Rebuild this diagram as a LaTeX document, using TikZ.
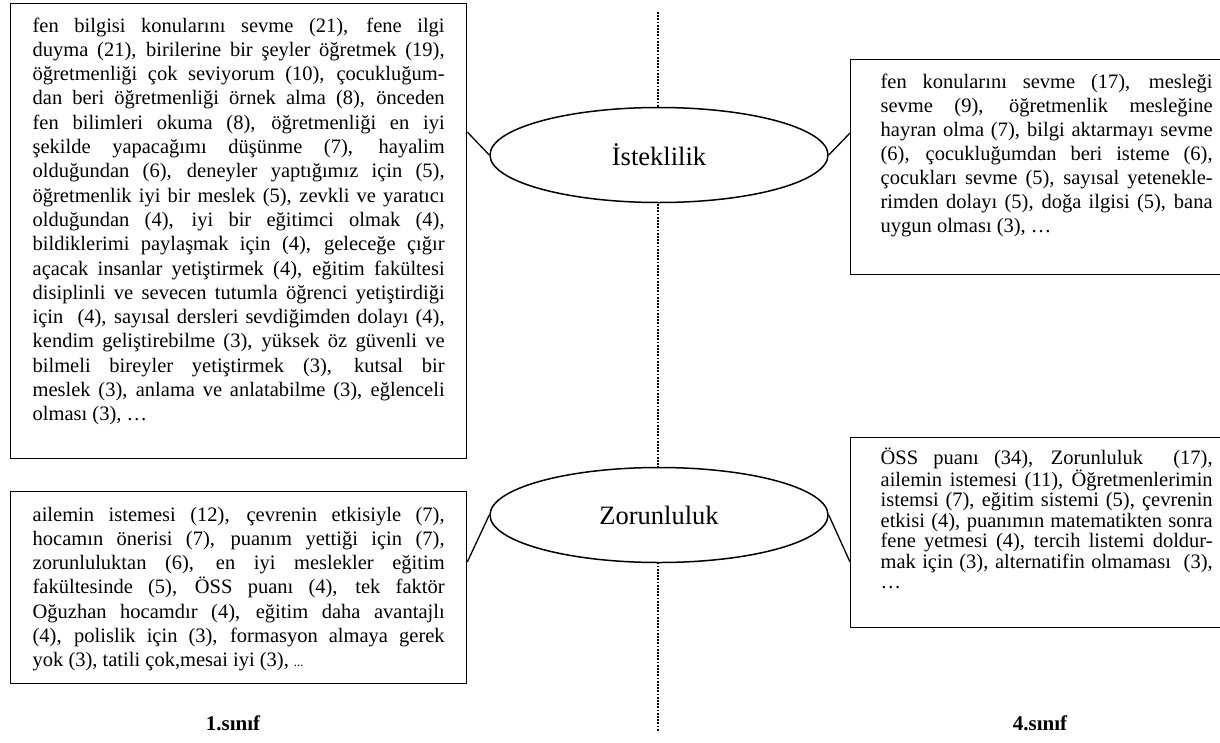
\documentclass[tikz,border=0pt]{standalone}
\usepackage{fontspec}
\setmainfont{Liberation Serif}
\usetikzlibrary{shapes.geometric}
\newcommand{\jline}[1]{\hbox to \linewidth{#1}}
\newcommand{\lline}[1]{\hbox{#1}}
\tikzset{
  txtbox/.style={draw, rectangle, line width=1.3pt, inner xsep=22pt, anchor=north west},
  ell/.style={ellipse, draw, fill=white, line width=1.5pt, minimum width=338pt,
    minimum height=95pt, inner sep=0pt, font=\fontsize{26.5}{30}\selectfont},
  conn/.style={line width=1.3pt},
  dotline/.style={line width=1.9pt, dash pattern=on 1.8pt off 1.4pt},
  lab/.style={font=\bfseries\fontsize{21}{24}\selectfont, inner sep=0pt}
}
\begin{document}
\begin{tikzpicture}[x=1pt, y=-1pt]
\useasboundingbox (0,0) rectangle (1220,742);
% dotted divider
\coordinate (dtop) at (658,12);
\coordinate (dbot) at (658,732);
\draw[dotline] (dtop) -- (dbot);

% left top box
\node[txtbox, inner ysep=14pt, font=\fontsize{20.5}{24.3}\selectfont] (lt) at (10,3) {\parbox[c][427pt][t]{412pt}{%
\jline{fen bilgisi konularını sevme (21), fene ilgi}
\jline{duyma (21), birilerine bir şeyler öğretmek (19),}
\jline{öğretmenliği çok seviyorum (10), çocukluğum-}
\jline{dan beri öğretmenliği örnek alma (8), önceden}
\jline{fen bilimleri okuma (8), öğretmenliği en iyi}
\jline{şekilde yapacağımı düşünme (7), hayalim}
\jline{olduğundan (6), deneyler yaptığımız için (5),}
\jline{öğretmenlik iyi bir meslek (5), zevkli ve yaratıcı}
\jline{olduğundan (4), iyi bir eğitimci olmak (4),}
\jline{bildiklerimi paylaşmak için (4), geleceğe çığır}
\jline{açacak insanlar yetiştirmek (4), eğitim fakültesi}
\jline{disiplinli ve sevecen tutumla öğrenci yetiştirdiği}
\jline{için\ \ (4), sayısal dersleri sevdiğimden dolayı (4),}
\jline{kendim geliştirebilme (3), yüksek öz güvenli ve}
\jline{bilmeli bireyler yetiştirmek (3), kutsal bir}
\jline{meslek (3), anlama ve anlatabilme (3), eğlenceli}
\lline{olması (3), …}}};

% right top box
\node[txtbox, inner xsep=30pt, inner ysep=14.5pt, font=\fontsize{20.5}{24}\selectfont] (rt) at (850,59) {\parbox[c][186pt][t]{332pt}{%
\jline{fen konularını sevme (17), mesleği}
\jline{sevme (9), öğretmenlik mesleğine}
\jline{hayran olma (7), bilgi aktarmayı sevme}
\jline{(6), çocukluğumdan beri isteme (6),}
\jline{çocukları sevme (5), sayısal yetenekle-}
\jline{rimden dolayı (5), doğa ilgisi (5), bana}
\lline{uygun olması (3), …}}};

% left bottom box
\node[txtbox, inner ysep=15.5pt, font=\fontsize{20.5}{24.2}\selectfont] (lb) at (10,491) {\parbox[c][161pt][t]{412pt}{%
\jline{ailemin istemesi (12), çevrenin etkisiyle (7),}
\jline{hocamın önerisi (7), puanım yettiği için (7),}
\jline{zorunluluktan (6), en iyi meslekler eğitim}
\jline{fakültesinde (5), ÖSS puanı (4), tek faktör}
\jline{Oğuzhan hocamdır (4), eğitim daha avantajlı}
\jline{(4), polislik için (3), formasyon almaya gerek}
\lline{yok (3), tatili çok,mesai iyi (3), {\fontsize{13}{15}\selectfont...}}}};

% right bottom box
\node[txtbox, inner xsep=30pt, inner ysep=10pt, font=\fontsize{20.5}{20.5}\selectfont] (rb) at (850,437) {\parbox[c][170pt][t]{332pt}{%
\jline{ÖSS puanı (34), Zorunluluk\ \ (17),}
\jline{ailemin istemesi (11), Öğretmenlerimin}
\jline{istemsi (7), eğitim sistemi (5), çevrenin}
\jline{etkisi (4), puanımın matematikten sonra}
\jline{fene yetmesi (4), tercih listemi doldur-}
\jline{mak için (3), alternatifin olmaması\ \ (3),}
\lline{…}}};

% ellipses
\node[ell] (ist) at (659,155) {İsteklilik};
\node[ell] (zor) at (659,515) {Zorunluluk};

% connectors
\draw[conn] (ist.west) -- ([yshift=23pt]ist.west -| lt.east);
\draw[conn] (ist.east) -- ([yshift=22pt]ist.east -| rt.west);
\draw[conn] (zor.west) -- ([yshift=-47pt]zor.west -| lb.east);
\draw[conn] (zor.east) -- ([yshift=-47pt]zor.east -| rb.west);

% labels
\node[lab] (l1) at (233,723) {1.sınıf};
\node[lab] (l4) at (1040,723) {4.sınıf};
\end{tikzpicture}
\end{document}
